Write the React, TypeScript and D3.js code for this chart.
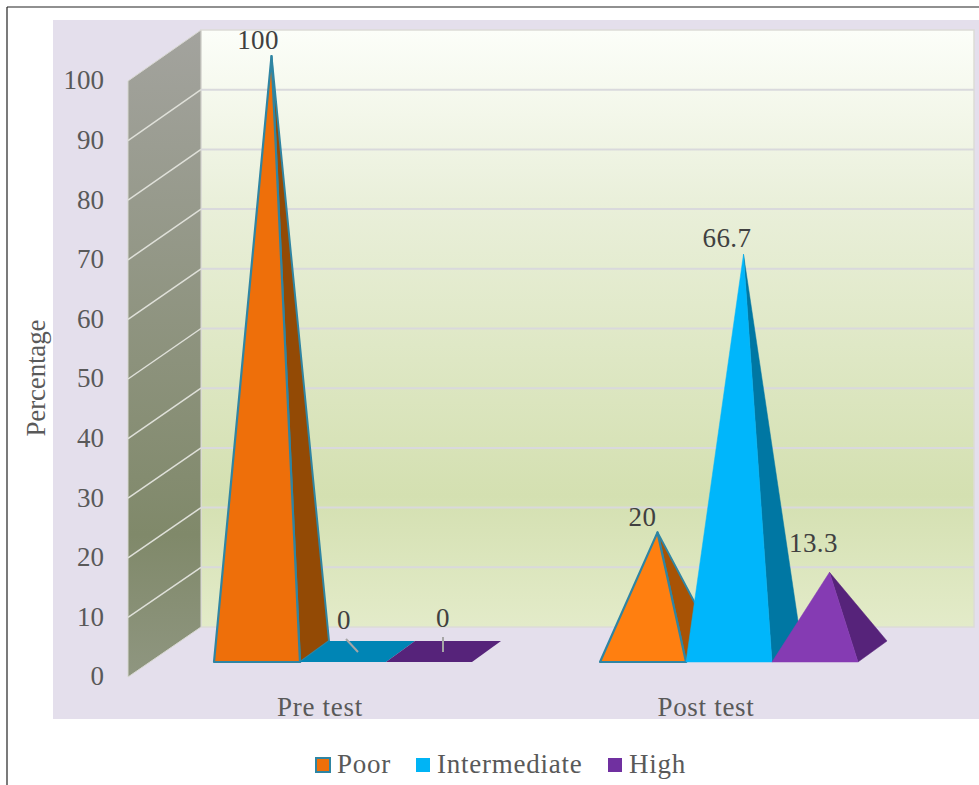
import React from "react";
import * as d3 from "d3";

const categories = ["Pre test", "Post test"];
const seriesNames = ["Poor", "Intermediate", "High"];
const poor = [100, 20];
const intermediate = [0, 66.7];
const high = [0, 13.3];
const axisTicks = [0, 10, 20, 30, 40, 50, 60, 70, 80, 90, 100];

const WIDTH = 979;
const HEIGHT = 785;
const FONT = "'Liberation Serif', 'Times New Roman', serif";
const TEXT_SIZE = 27;

// Wall projections of the value axis
const yBack = d3.scaleLinear().domain([0, 100]).range([627, 30]);
const yFront = d3.scaleLinear().domain([0, 100]).range([677, 81]);
// Pyramid height is measured from the centre of its square base
const depth = { dx: 29, dy: -21 };
const baseY = 662;
const yApex = d3.scaleLinear().domain([0, 100]).range([baseY + depth.dy / 2, 56]);

const xGroup = d3.scaleBand<string>().domain(categories).range([214, 858]).paddingInner(0.3316);
const xSeries = d3.scaleBand<string>().domain(seriesNames).range([0, xGroup.bandwidth()]);

const styles: Record<string, { legend: string; stroke: string | null }> = {
  Poor: { legend: "#ee6f0a", stroke: "#2f85a3" },
  Intermediate: { legend: "#00b4f5", stroke: null },
  High: { legend: "#7030a0", stroke: null },
};
// front and side face colours per series, per category
const faceFront: Record<string, string[]> = {
  Poor: ["#ee6f0a", "#ff7f10"],
  Intermediate: ["#0085b5", "#00b6fb"],
  High: ["#56237a", "#853bb3"],
};
const faceSide: Record<string, string[]> = {
  Poor: ["#934a05", "#a85305"],
  Intermediate: ["#0085b5", "#0077a3"],
  High: ["#56237a", "#56237a"],
};
const seriesValues: Record<string, number[]> = { Poor: poor, Intermediate: intermediate, High: high };

// Label placement relative to the apex, per series and category
const labelOffsets: Record<string, [number, number][]> = {
  Poor: [[-13.5, -7], [-15, -6]],
  Intermediate: [[-70.5, -22], [-16.5, -7]],
  High: [[-72, -24], [-16, -20]],
};
// Zero-height labels sit on their own leader lines: label x, label y, then the line ends
const zeroLabels: Record<string, { x: number; y: number; line: number[] }> = {
  Intermediate: { x: 44, y: 629, line: [46, 639, 58, 652] },
  High: { x: 57, y: 627, line: [57, 637, 57, 652] },
};

const legendItems = [
  { name: "Poor", swatch: 316, text: 337 },
  { name: "Intermediate", swatch: 416, text: 437 },
  { name: "High", swatch: 608, text: 629 },
];

const pts = (p: number[][]) => p.map((q) => q.join(",")).join(" ");

export default function App() {
  return (
    <svg
      width={WIDTH}
      height={HEIGHT}
      viewBox={`0 0 ${WIDTH} ${HEIGHT}`}
      style={{ position: "absolute", left: 0, top: 0, background: "#fff" }}
      fontFamily={FONT}
    >
      <defs>
        <linearGradient id="backWall" x1="0" y1="0" x2="0" y2="1">
          <stop offset="0" stopColor="#fcfef9" />
          <stop offset="0.3" stopColor="#e9efd9" />
          <stop offset="0.78" stopColor="#d4e0b1" />
          <stop offset="1" stopColor="#e3ebc9" />
        </linearGradient>
        <linearGradient id="sideWall" x1="0" y1="0" x2="0" y2="1">
          <stop offset="0" stopColor="#a3a39e" />
          <stop offset="0.78" stopColor="#80896a" />
          <stop offset="1" stopColor="#8f9680" />
        </linearGradient>
      </defs>

      <line x1={7} y1={7} x2={979} y2={7} stroke="#222" strokeWidth={1.2} />
      <line x1={7} y1={7} x2={7} y2={785} stroke="#222" strokeWidth={1.2} />
      <rect x={53} y={20} width={926} height={699} fill="#e4dfec" />

      <rect x={201} y={30} width={773} height={597} fill="url(#backWall)" stroke="#dcdcd6" strokeWidth={1.5} />
      <polygon
        points={pts([[128, yFront(100)], [201, yBack(100)], [201, yBack(0)], [128, yFront(0)]])}
        fill="url(#sideWall)"
        stroke="#d8d8d2"
        strokeWidth={1}
      />

      {axisTicks.slice(1, -1).map((t) => (
        <g key={t} stroke="#d9d9dc" strokeWidth={2}>
          <line x1={201} x2={974} y1={yBack(t)} y2={yBack(t)} />
          <line x1={128} x2={201} y1={yFront(t)} y2={yBack(t)} stroke="#dfe0d9" strokeWidth={1.5} />
        </g>
      ))}

      {axisTicks.map((t) => (
        <text key={t} x={104} y={yFront(t)} dy="0.31em" textAnchor="end" fontSize={TEXT_SIZE} fill="#595959">
          {t}
        </text>
      ))}

      <text
        transform="translate(45,378) rotate(-90)"
        textAnchor="middle"
        fontSize={TEXT_SIZE}
        fill="#595959"
        textLength={117}
      >
        Percentage
      </text>

      {categories.map((cat, ci) =>
        seriesNames.map((name) => {
          const v = seriesValues[name][ci];
          const x0 = xGroup(cat)! + xSeries(name)!;
          const w = xSeries.bandwidth();
          const x1 = x0 + w;
          const apex = [x0 + w / 2 + depth.dx / 2, yApex(v)];
          const a = [x0, baseY];
          const b = [x1, baseY];
          const c = [x1 + depth.dx, baseY + depth.dy];
          const d = [x0 + depth.dx, baseY + depth.dy];
          const st = styles[name];
          return (
            <g key={name + cat}>
              {v === 0 ? (
                <polygon points={pts([a, b, c, d])} fill={faceFront[name][ci]} />
              ) : (
                <>
                  <polygon
                    points={pts([b, c, apex])}
                    fill={faceSide[name][ci]}
                    stroke={st.stroke ?? faceSide[name][ci]}
                    strokeWidth={st.stroke ? 2 : 0.5}
                    strokeLinejoin="round"
                  />
                  <polygon
                    points={pts([a, b, apex])}
                    fill={faceFront[name][ci]}
                    stroke={st.stroke ?? faceFront[name][ci]}
                    strokeWidth={st.stroke ? 2.2 : 0.5}
                    strokeLinejoin="round"
                  />
                </>
              )}
            </g>
          );
        })
      )}

      {categories.map((cat, ci) =>
        seriesNames.map((name) => {
          const v = seriesValues[name][ci];
          const x0 = xGroup(cat)! + xSeries(name)!;
          const ax = x0 + xSeries.bandwidth() / 2 + depth.dx / 2;
          const ay = yApex(v);
          const [dx, dy] = labelOffsets[name][ci];
          const zero = v === 0 ? zeroLabels[name] : null;
          return (
            <g key={name + cat + "label"}>
              {zero && (
                <line
                  x1={x0 + zero.line[0]}
                  y1={zero.line[1]}
                  x2={x0 + zero.line[2]}
                  y2={zero.line[3]}
                  stroke="#a6a6a6"
                  strokeWidth={2}
                />
              )}
              <text
                x={zero ? x0 + zero.x : ax + dx}
                y={zero ? zero.y : ay + dy}
                textAnchor="middle"
                fontSize={TEXT_SIZE}
                fill="#404040"
                letterSpacing={0.4}
              >
                {v}
              </text>
            </g>
          );
        })
      )}

      {categories.map((cat) => (
        <text
          key={cat}
          x={xGroup(cat)! + xGroup.bandwidth() / 2 - 23}
          y={716}
          textAnchor="middle"
          fontSize={TEXT_SIZE}
          fill="#595959"
          letterSpacing={0.7}
        >
          {cat}
        </text>
      ))}

      {legendItems.map((it) => (
        <g key={it.name}>
          <rect
            x={it.swatch}
            y={758}
            width={14}
            height={14}
            fill={styles[it.name].legend}
            stroke={styles[it.name].stroke ?? "none"}
            strokeWidth={2}
          />
          <text x={it.text} y={773} fontSize={TEXT_SIZE} fill="#595959" letterSpacing={0.75}>
            {it.name}
          </text>
        </g>
      ))}
    </svg>
  );
}
